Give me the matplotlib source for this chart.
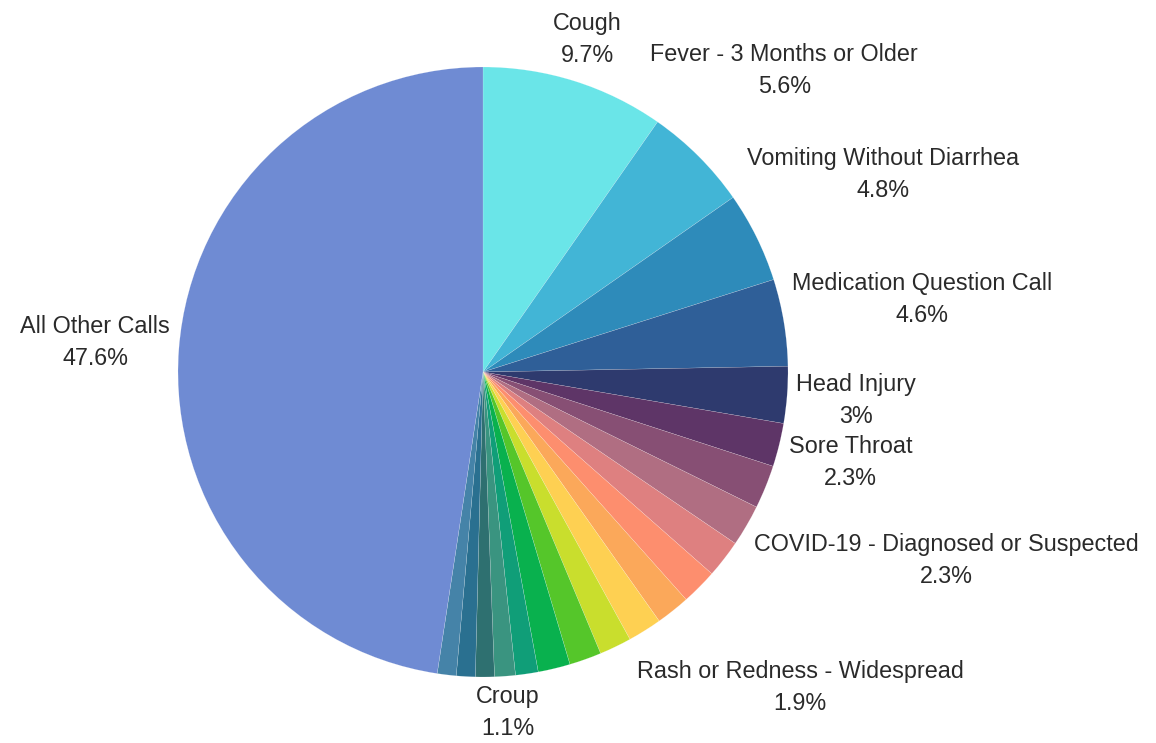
import numpy as np
import matplotlib.pyplot as plt

plt.rcParams['font.family'] = ['Liberation Sans', 'DejaVu Sans']

# slices in clockwise order from 12 o'clock; None = no label shown
categories = ["Cough", "Fever - 3 Months or Older", "Vomiting Without Diarrhea",
              "Medication Question Call", "Head Injury", "Sore Throat",
              "COVID-19 - Diagnosed or Suspected", None, None,
              "Rash or Redness - Widespread", None, None, None, None, None, None,
              "Croup", None, None, None, "All Other Calls"]
values = [9.7, 5.6, 4.8, 4.6, 3.0, 2.3, 2.3, 2.2, 2.0, 1.9, 1.8, 1.8, 1.7, 1.7,
          1.7, 1.2, 1.1, 1.0, 1.0, 1.0, 47.6]
colors = ["#6ae5e8", "#42b5d6", "#2e8bba", "#2f5f98", "#2e3a6e", "#5e3567",
          "#874f74", "#b06e82", "#de8080", "#fd8e6e", "#fba85a", "#fed052",
          "#c9de2d", "#55c62a", "#09b14e", "#109e78", "#3a9480", "#2e7070",
          "#2a7090", "#4583a8", "#6f8bd3"]

W, H = 1156, 743
cx, cy, R = 483, 372, 305
fig = plt.figure(figsize=(W / 100, H / 100), dpi=100)
ax = fig.add_axes([(cx - R) / W, (H - cy - R) / H, 2 * R / W, 2 * R / H])
wedges, _ = ax.pie(values, colors=colors, startangle=90, counterclock=False,
                   radius=1, wedgeprops=dict(edgecolor="#ffffff80", linewidth=0.2))
ax.set_xlim(-1, 1)
ax.set_ylim(-1, 1)
ax.set_aspect("equal")
ax.axis("off")

total = sum(values)
renderer = fig.canvas.get_renderer()
gap = 7 / R
start = 0.0
for name, v in zip(categories, values):
    mid = (start + v / 2) / total * 2 * np.pi
    start += v
    if name is None:
        continue
    pct = f"{v:.1f}".rstrip("0").rstrip(".") + "%"
    t = ax.text(0, 0, f"{name}\n{pct}", ha="center", va="center",
                fontsize=16.8, color="#2a2a2a", linespacing=1.5, clip_on=False)
    bb = t.get_window_extent(renderer)
    hw, hh = bb.width / 2 / R, bb.height / 2 / R
    sx, sy = np.sin(mid), np.cos(mid)
    d = 1 + gap + hw * abs(sx) + hh * abs(sy)
    t.set_position((d * sx, d * sy))

fig.savefig("out.png", dpi=100)
